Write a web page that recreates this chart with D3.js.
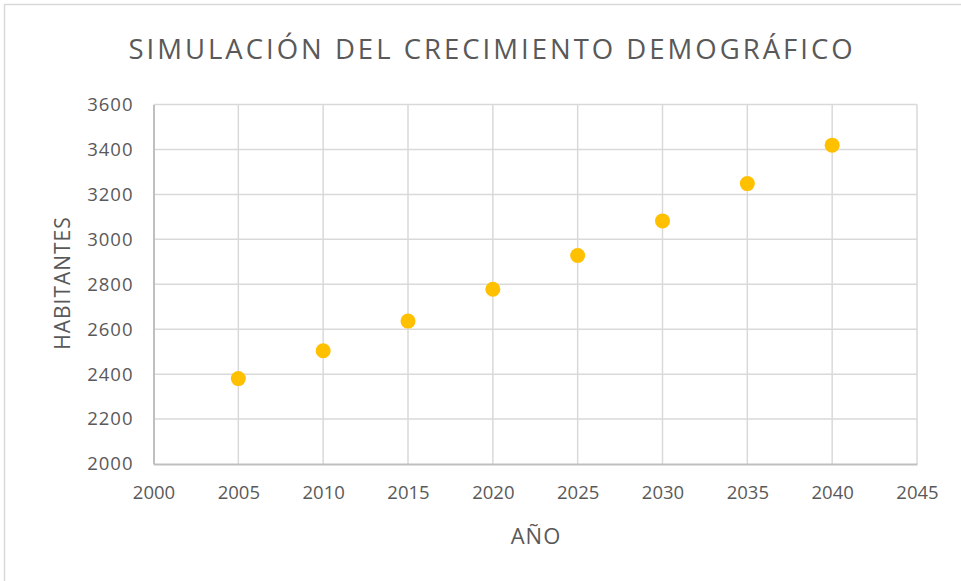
<!DOCTYPE html>
<html>
<head>
<meta charset="utf-8">
<script src="https://cdn.jsdelivr.net/npm/d3@7"></script>
<style>
  body { margin: 0; background: #fff; }
  text { font-family: "Open Sans", sans-serif; fill: #595959; }
</style>
</head>
<body>
<div id="chart-area"></div>
<script>
// data
var years = [2005, 2010, 2015, 2020, 2025, 2030, 2035, 2040];
var habitantes = [2380, 2504, 2636, 2778, 2928, 3082, 3248, 3419];
var xTicks = [2000, 2005, 2010, 2015, 2020, 2025, 2030, 2035, 2040, 2045];
var yTicks = [2000, 2200, 2400, 2600, 2800, 3000, 3200, 3400, 3600];

var width = 961,
    height = 581;

var margin = {top: 104.5, right: 44, bottom: 117, left: 153.5};

var svg = d3.select("#chart-area")
    .append("svg")
    .attr("width", width)
    .attr("height", height);

// outer frame (only top and left are visible)
svg.append("path")
    .attr("d", "M4.5," + height + "V4.5H" + width)
    .attr("fill", "none")
    .attr("stroke", "#d9d9d9")
    .attr("stroke-width", 1.5);

var xScale = d3.scaleLinear()
    .domain([2000, 2045])
    .range([margin.left, width - margin.right]);

var yScale = d3.scaleLinear()
    .domain([2000, 3600])
    .range([height - margin.bottom, margin.top]);

// gridlines
svg.append("g").selectAll("line.hgrid")
    .data(yTicks.slice(1))
    .enter()
    .append("line")
    .attr("class", "hgrid")
    .attr("x1", xScale(2000))
    .attr("x2", xScale(2045))
    .attr("y1", function (d) { return yScale(d); })
    .attr("y2", function (d) { return yScale(d); })
    .attr("stroke", "#d9d9d9")
    .attr("stroke-width", 1.5);

svg.append("g").selectAll("line.vgrid")
    .data(xTicks.slice(1))
    .enter()
    .append("line")
    .attr("class", "vgrid")
    .attr("x1", function (d) { return xScale(d); })
    .attr("x2", function (d) { return xScale(d); })
    .attr("y1", yScale(2000))
    .attr("y2", yScale(3600))
    .attr("stroke", "#d9d9d9")
    .attr("stroke-width", 1.5);

// axes
var xAxis = d3.axisBottom(xScale).tickValues(xTicks).tickSize(0).tickPadding(22)
    .tickFormat(d3.format("d"));
var yAxis = d3.axisLeft(yScale).tickValues(yTicks).tickSize(0).tickPadding(20)
    .tickFormat(d3.format("d"));

var gx = svg.append("g")
    .attr("class", "x-axis axis")
    .attr("transform", "translate(0," + yScale(2000) + ")")
    .call(xAxis);
var gy = svg.append("g")
    .attr("class", "y-axis axis")
    .attr("transform", "translate(" + xScale(2000) + ",0)")
    .call(yAxis);

svg.selectAll(".axis path").attr("stroke", "#bfbfbf").attr("stroke-width", 2);
svg.selectAll(".axis text")
    .style("font-family", "'Open Sans', sans-serif")
    .style("font-size", "18.5px")
    .attr("fill", "#595959");
gy.selectAll("text").style("letter-spacing", "1px");

// points
svg.append("g").selectAll("circle")
    .data(years)
    .enter()
    .append("circle")
    .attr("cx", function (d) { return xScale(d); })
    .attr("cy", function (d, i) { return yScale(habitantes[i]); })
    .attr("r", 7.5)
    .attr("fill", "#ffc000");

// titles
svg.append("text")
    .attr("x", 492)
    .attr("y", 59)
    .attr("text-anchor", "middle")
    .style("font-size", "27.5px")
    .style("letter-spacing", "3px")
    .text("SIMULACIÓN DEL CRECIMIENTO DEMOGRÁFICO");

svg.append("text")
    .attr("x", 536)
    .attr("y", 544)
    .attr("text-anchor", "middle")
    .style("font-size", "22px")
    .style("letter-spacing", "1px")
    .text("AÑO");

svg.append("text")
    .attr("transform", "translate(70,283) rotate(-90)")
    .attr("text-anchor", "middle")
    .style("font-size", "21px")
    .style("letter-spacing", "1px")
    .text("HABITANTES");
</script>
</body>
</html>
